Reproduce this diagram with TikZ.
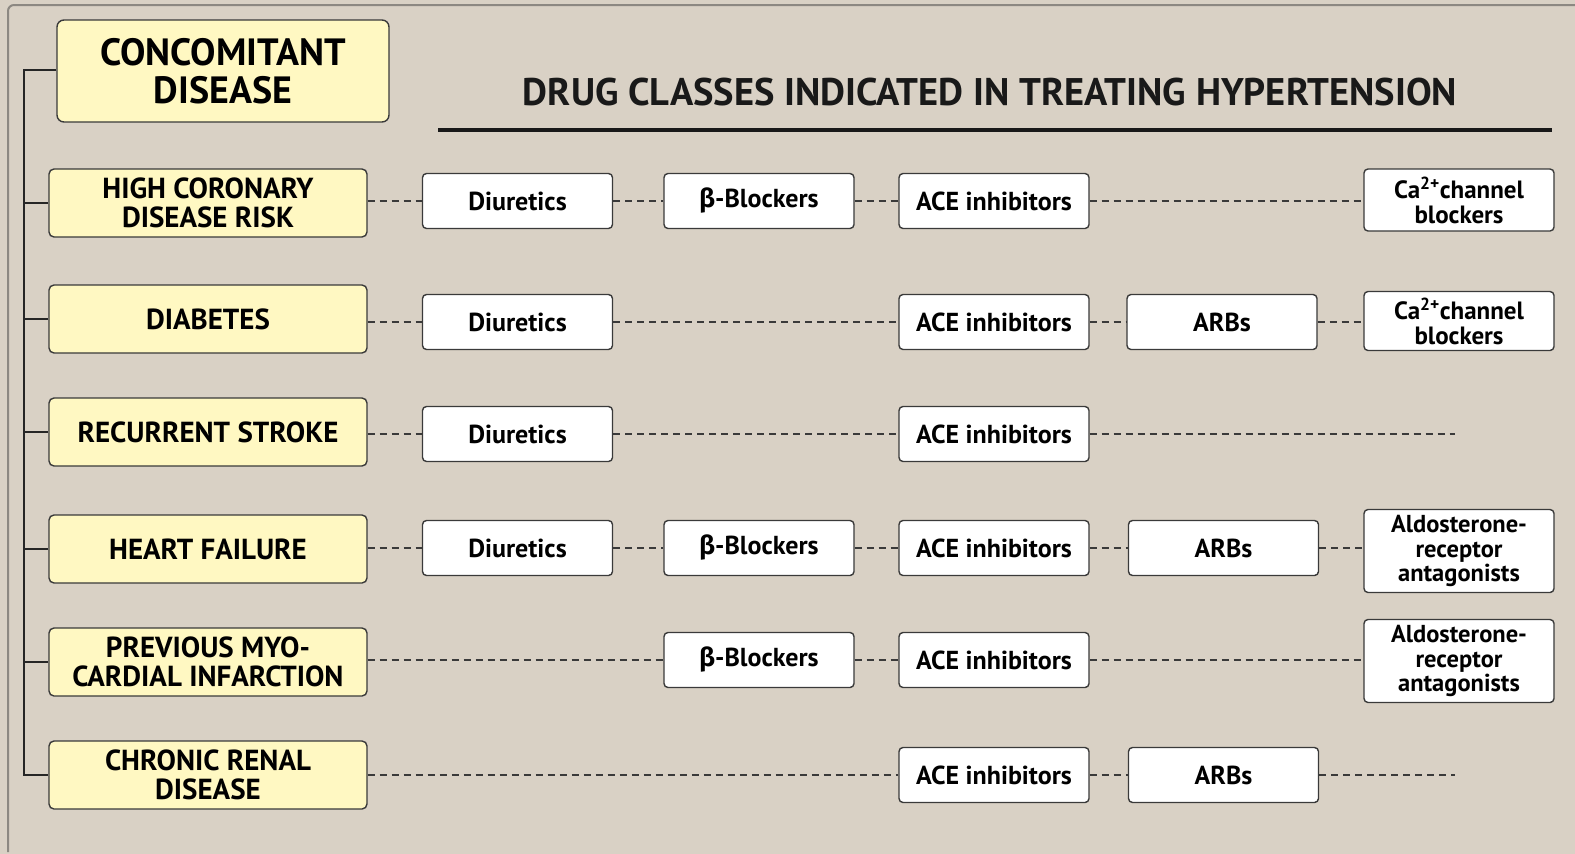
\documentclass[tikz,border=0pt]{standalone}
\usepackage{fontspec}
\setmainfont{PT Sans}
\newfontfamily\grk{Fira Sans}
\definecolor{bgc}{HTML}{D9D1C5}
\definecolor{yel}{HTML}{FFF8C2}
\definecolor{bdr}{HTML}{3A3A3A}
\definecolor{frm}{HTML}{8C8882}
\begin{document}
\begin{tikzpicture}[x=1pt,y=-1pt,
  disbox/.style={draw=bdr,line width=1.4pt,fill=yel,rounded corners=5pt,minimum width=318pt,minimum height=68pt,align=center,inner sep=0pt,font=\fontsize{29}{29}\selectfont\bfseries},
  drugbox/.style={draw=bdr,line width=1.4pt,fill=white,rounded corners=4pt,minimum width=190pt,minimum height=55pt,align=center,inner sep=0pt,font=\fontsize{26}{26}\selectfont\bfseries},
  twobox/.style={drugbox,font=\fontsize{25}{25}\selectfont\bfseries},
  tallbox/.style={drugbox,minimum height=83pt,font=\fontsize{24.5}{24.5}\selectfont\bfseries},
  conn/.style={line width=1.8pt,dash pattern=on 7pt off 5pt,draw=bdr},
  brk/.style={line width=1.8pt,draw=black!85}
]
\useasboundingbox (0,0) rectangle (1575,854);
\fill[bgc] (0,0) rectangle (1575,854);
\draw[frm,line width=2pt,rounded corners=6pt] (8,852) -- (8,5) -- (1580,5);
% title
\node[disbox,minimum width=332pt,minimum height=102pt,rounded corners=7pt,font=\fontsize{38}{38}\selectfont\bfseries] (title) at (223,71) {CONCOMITANT\\DISEASE};
\node[font=\fontsize{38.5}{38}\selectfont\bfseries,text=black!90] (hdr) at (990,92) {DRUG CLASSES INDICATED IN TREATING HYPERTENSION};
\coordinate (hl) at (438,130);
\coordinate (hr) at (1552,130);
\draw[line width=4pt,black!90] (hl) -- (hr);
% disease boxes
\node[disbox] (d1) at (208,203) {HIGH CORONARY\\DISEASE RISK};
\node[disbox] (d2) at (208,319) {DIABETES};
\node[disbox] (d3) at (208,432) {RECURRENT STROKE};
\node[disbox] (d4) at (208,549) {HEART FAILURE};
\node[disbox] (d5) at (208,662) {PREVIOUS MYO-\\CARDIAL INFARCTION};
\node[disbox] (d6) at (208,775) {CHRONIC RENAL\\DISEASE};
% bracket
\coordinate (b0) at (24,70);
\coordinate (b6) at (24,775);
\draw[brk] (title.west |- b0) -- (b0) -- (b6) -- (d6.west);
\foreach \i/\y in {1/203,2/319,3/432,4/549,5/662}{
  \coordinate (t\i) at (24,\y);
  \draw[brk] (t\i) -- (d\i.west);
}
% row 1
\node[drugbox] (r1a) at (517.5,201) {Diuretics};
\node[drugbox] (r1b) at (759,201) {{\grk β}-Blockers};
\node[drugbox] (r1c) at (994,201) {ACE inhibitors};
\node[twobox,minimum height=62pt] (r1e) at (1459,200) {Ca\textsuperscript{2+}channel\\blockers};
\draw[conn] (d1.east |- r1a.west) -- (r1a.west);
\draw[conn] (r1a.east) -- (r1b.west);
\draw[conn] (r1b.east) -- (r1c.west);
\draw[conn] (r1c.east) -- (r1c.east -| r1e.west);
% row 2
\node[drugbox] (r2a) at (517.5,322) {Diuretics};
\node[drugbox] (r2c) at (994,322) {ACE inhibitors};
\node[drugbox] (r2d) at (1222,322) {ARBs};
\node[twobox,minimum height=59pt] (r2e) at (1459,321) {Ca\textsuperscript{2+}channel\\blockers};
\draw[conn] (d2.east |- r2a.west) -- (r2a.west);
\draw[conn] (r2a.east) -- (r2c.west);
\draw[conn] (r2c.east) -- (r2d.west);
\draw[conn] (r2d.east) -- (r2d.east -| r2e.west);
% row 3
\node[drugbox] (r3a) at (517.5,434) {Diuretics};
\node[drugbox] (r3c) at (994,434) {ACE inhibitors};
\coordinate (r3end) at (1455,434);
\draw[conn] (d3.east |- r3a.west) -- (r3a.west);
\draw[conn] (r3a.east) -- (r3c.west);
\draw[conn] (r3c.east) -- (r3end);
% row 4
\node[drugbox] (r4a) at (517.5,548) {Diuretics};
\node[drugbox] (r4b) at (759,548) {{\grk β}-Blockers};
\node[drugbox] (r4c) at (994,548) {ACE inhibitors};
\node[drugbox] (r4d) at (1223.5,548) {ARBs};
\node[tallbox] (r4e) at (1459,551) {Aldosterone-\\receptor\\antagonists};
\draw[conn] (d4.east |- r4a.west) -- (r4a.west);
\draw[conn] (r4a.east) -- (r4b.west);
\draw[conn] (r4b.east) -- (r4c.west);
\draw[conn] (r4c.east) -- (r4d.west);
\draw[conn] (r4d.east) -- (r4d.east -| r4e.west);
% row 5
\node[drugbox] (r5b) at (759,660) {{\grk β}-Blockers};
\node[drugbox] (r5c) at (994,660) {ACE inhibitors};
\node[tallbox] (r5e) at (1459,661) {Aldosterone-\\receptor\\antagonists};
\draw[conn] (d5.east |- r5b.west) -- (r5b.west);
\draw[conn] (r5b.east) -- (r5c.west);
\draw[conn] (r5c.east) -- (r5c.east -| r5e.west);
% row 6
\node[drugbox] (r6c) at (994,775) {ACE inhibitors};
\node[drugbox] (r6d) at (1223.5,775) {ARBs};
\coordinate (r6end) at (1455,775);
\draw[conn] (d6.east) -- (r6c.west);
\draw[conn] (r6c.east) -- (r6d.west);
\draw[conn] (r6d.east) -- (r6end);
\end{tikzpicture}
\end{document}
